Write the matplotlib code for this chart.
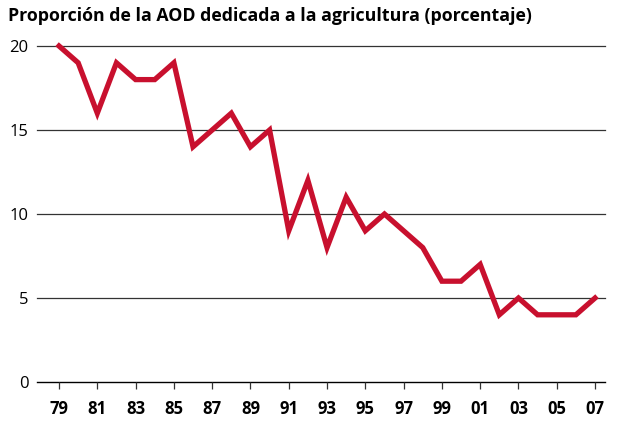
import matplotlib.pyplot as plt
import numpy as np

years = np.arange(1979, 2008)
values = [20, 19, 16, 19, 18, 18, 19, 14, 15, 16, 14, 15, 9, 12, 8, 11,
          9, 10, 9, 8, 6, 6, 7, 4, 5, 4, 4, 4, 5]
tick_years = np.arange(1979, 2008, 2)
tick_labels = ["%02d" % (y % 100) for y in tick_years]

plt.rcParams['font.family'] = ['Open Sans', 'DejaVu Sans']

fig = plt.figure(figsize=(6.23, 4.24), dpi=100)
ax = fig.add_axes([37 / 623, 1 - 382 / 424, (605 - 37) / 623, (382 - 46) / 424])

for v in [5, 10, 15, 20]:
    ax.axhline(v, color='#333333', lw=0.9, zorder=1, clip_on=False)
ax.axhline(0, color='black', lw=1.0, zorder=1, clip_on=False)

ax.plot(years, values, color='#C8102E', lw=3.8, solid_joinstyle='miter',
        zorder=3, clip_on=False)

ax.set_xlim(1977.85, 2007.52)
ax.set_ylim(0, 20)
for s in ax.spines.values():
    s.set_visible(False)

ax.set_xticks(tick_years)
ax.set_xticklabels(tick_labels, fontweight='bold', fontsize=12)
ax.tick_params(axis='x', length=5, width=0.9, color='#333333', pad=8)
ax.set_yticks([0, 5, 10, 15, 20])
ax.set_yticklabels(['0', '5', '10', '15', '20'], fontsize=12)
ax.tick_params(axis='y', length=0, pad=6)

fig.text(8 / 623, 1 - 16 / 424, 'Proporción de la AOD dedicada a la agricultura (porcentaje)',
         fontsize=12.8, fontweight='bold', va='center', ha='left')

fig.savefig('out.png', dpi=100)
